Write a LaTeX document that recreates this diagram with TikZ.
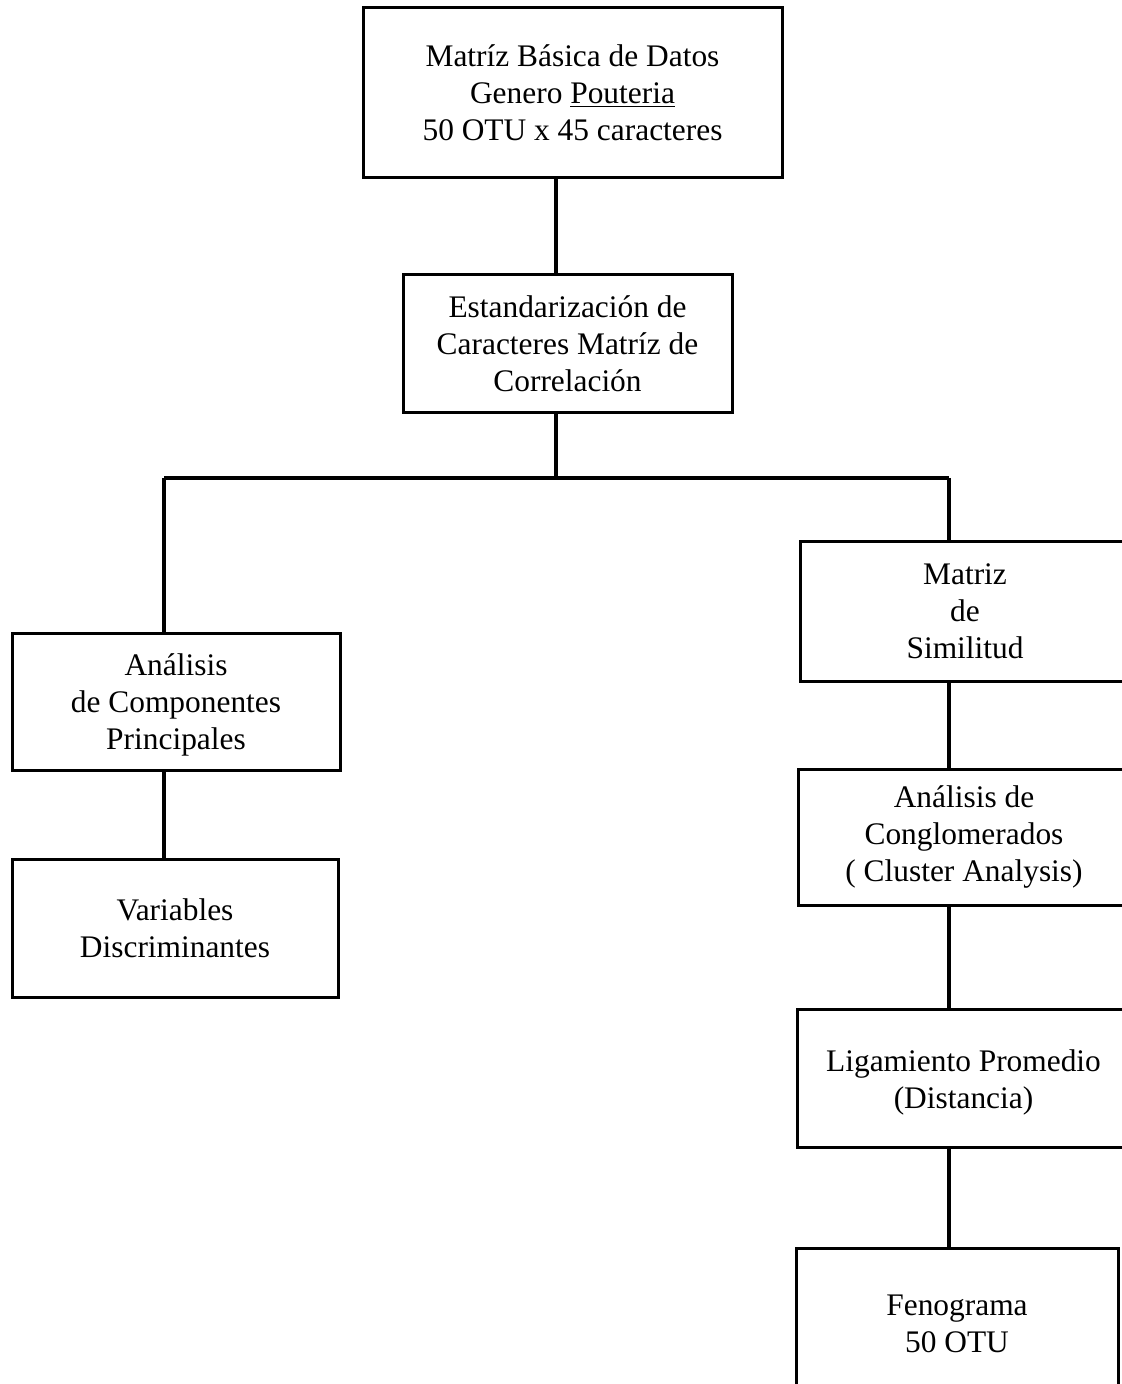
\documentclass[tikz,border=0pt]{standalone}
\usepackage{fontspec}
\setmainfont{Liberation Serif}
\begin{document}
\begin{tikzpicture}[x=0.5pt,y=-0.5pt,
  box/.style={draw, line width=1.5pt, align=center, inner sep=0pt, font=\fontsize{15.7}{18.5}\selectfont},
  link/.style={line width=1.6pt}]
\useasboundingbox (0,0) rectangle (1122,1384);
\clip (0,0) rectangle (1122,1384);
\node[box, minimum width=209.5pt, minimum height=85pt] (datos) at (572.5,93) {Matríz Básica de Datos\\Genero \underline{Pouteria}\\50 OTU x 45 caracteres};
\node[box, minimum width=164.5pt, minimum height=69pt] (estand) at (567.5,344) {Estandarización de\\Caracteres Matríz de\\Correlación};
\node[box, minimum width=164pt, minimum height=68.5pt] (acp) at (176,701.5) {\rule{0pt}{14pt}Análisis\\de Componentes\\Principales};
\node[box, minimum width=163pt, minimum height=69pt] (variables) at (175,928) {Variables\\Discriminantes};
\node[box, minimum width=165pt, minimum height=70pt] (similitud) at (965,611) {Matriz\\de\\Similitud};
\node[box, minimum width=166pt, minimum height=68pt] (cluster) at (964,837) {Análisis de\\Conglomerados\\( Cluster Analysis)};
\node[box, minimum width=166.5pt, minimum height=69pt] (ligamiento) at (963.5,1078) {\rule{0pt}{15pt}Ligamiento Promedio\\(Distancia)};
\node[box, minimum width=161pt, minimum height=76pt] (fenograma) at (957,1324) {Fenograma\\50 OTU};
% ramas
\coordinate (fork) at (556,478);
\coordinate (forkL) at (164,478);
\coordinate (forkR) at (949,478);
\draw[link] (datos.south -| fork) -- (estand.north -| fork);
\draw[link] (estand.south -| fork) -- (fork);
\draw[link] (forkL) -- (forkR);
\draw[link] (forkL) -- (acp.north -| forkL);
\draw[link] (acp.south -| forkL) -- (variables.north -| forkL);
\draw[link] (forkR) -- (similitud.north -| forkR);
\draw[link] (similitud.south -| forkR) -- (cluster.north -| forkR);
\draw[link] (cluster.south -| forkR) -- (ligamiento.north -| forkR);
\draw[link] (ligamiento.south -| forkR) -- (fenograma.north -| forkR);
\end{tikzpicture}
\end{document}
